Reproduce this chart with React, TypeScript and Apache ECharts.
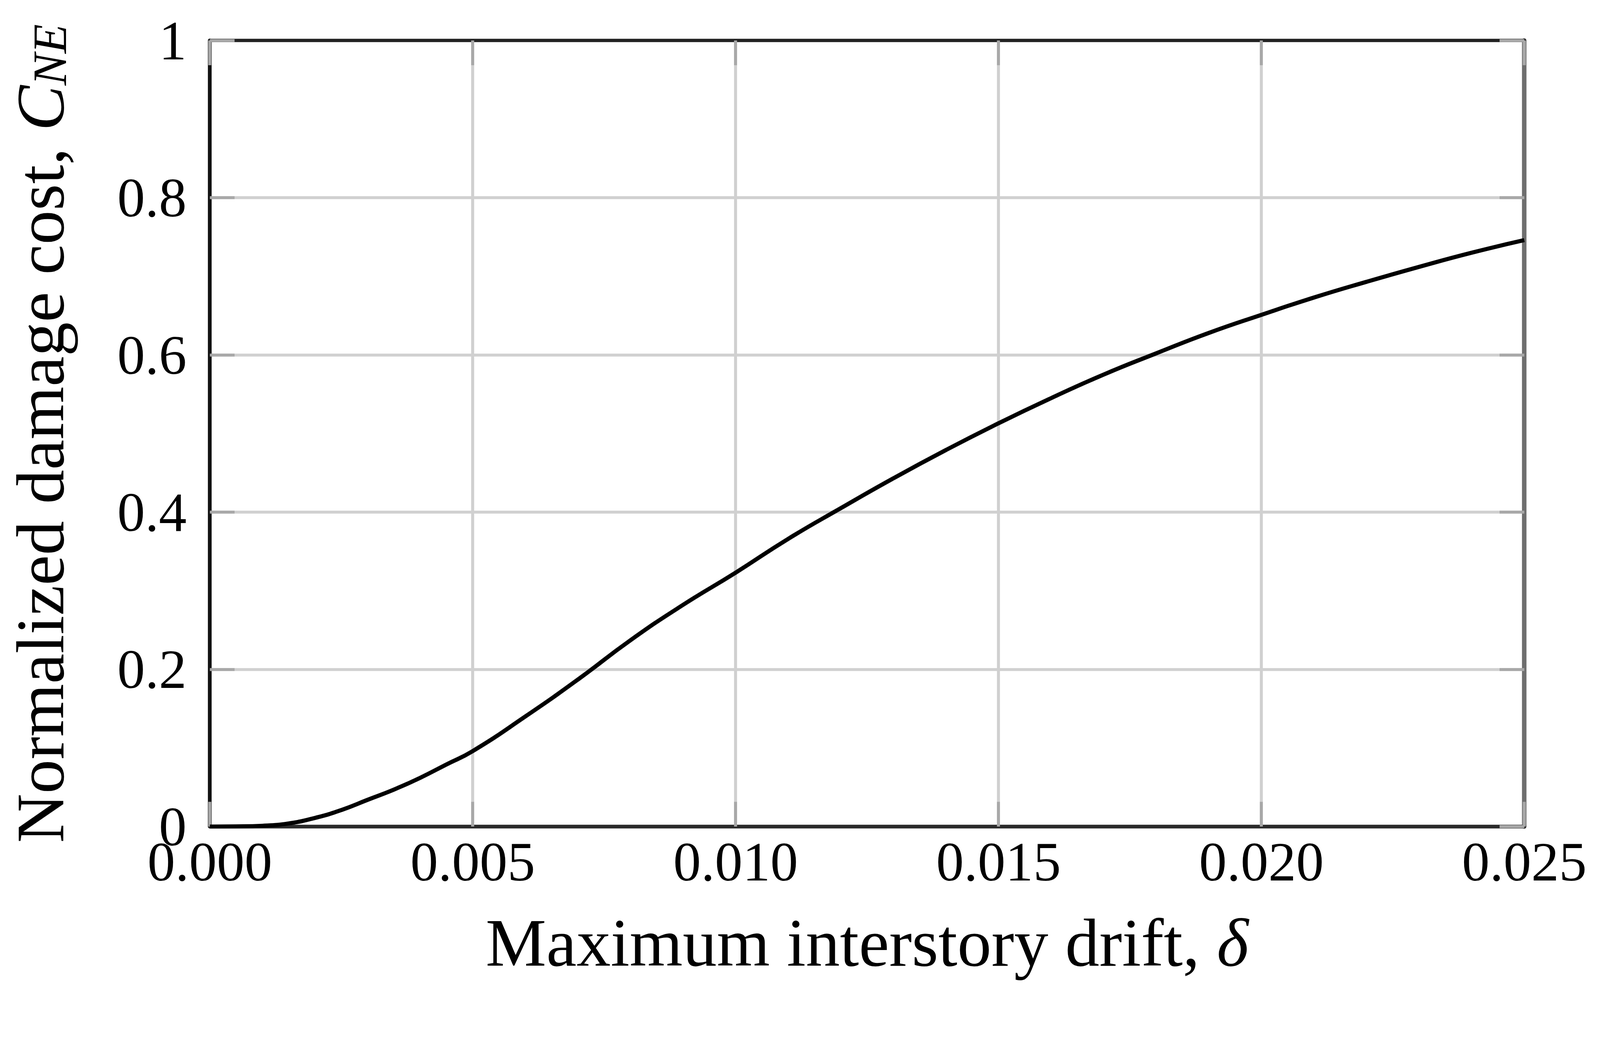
import React, { useEffect, useRef, useState } from "react";
import * as echarts from "echarts";

const driftValues = [
  0, 0.0005, 0.001, 0.0015, 0.002, 0.0025, 0.003, 0.0035, 0.004, 0.0045, 0.005,
  0.006, 0.007, 0.008, 0.009, 0.01, 0.011, 0.012, 0.013, 0.014, 0.015, 0.016,
  0.017, 0.018, 0.019, 0.02, 0.021, 0.022, 0.023, 0.024, 0.025,
];
const costValues = [
  0, 0.0002, 0.001, 0.004, 0.011, 0.021, 0.034, 0.047, 0.062, 0.079, 0.096,
  0.14, 0.187, 0.237, 0.282, 0.323, 0.366, 0.405, 0.443, 0.479, 0.513, 0.545,
  0.575, 0.602, 0.628, 0.651, 0.673, 0.693, 0.712, 0.73, 0.746,
];
const xTickInterval = 0.005;
const yTickInterval = 0.2;
const xTitle = "Maximum interstory drift, ";
const xTitleSymbol = "δ";
const yTitle = "Normalized damage cost, ";
const yTitleSymbol = "C";
const yTitleSub = "NE";

const FONT = "Liberation Serif";
const BASE_W = 4270;
const BASE_H = 2670;

export default function App() {
  const ref = useRef<HTMLDivElement>(null);
  const [size, setSize] = useState<{ w: number; h: number; s: number } | null>(null);

  useEffect(() => {
    document.body.style.margin = "0";
    document.body.style.overflow = "hidden";
    const s = Math.min(window.innerWidth / BASE_W, window.innerHeight / BASE_H);
    setSize({ w: BASE_W * s, h: BASE_H * s, s });
  }, []);

  useEffect(() => {
    if (!size || !ref.current) return;
    const s = size.s;
    const p = (v: number) => v * s;
    const chart = echarts.init(ref.current, null, { renderer: "svg" });
    const data = driftValues.map((x, i) => [x, costValues[i]]);
    const tickStyle = { show: true, inside: true, length: p(66), lineStyle: { color: "#a8a8a8", width: p(8) } };
    const gridLine = { show: true, lineStyle: { color: "#d0d0d0", width: p(8) } };
    chart.setOption({
      animation: false,
      backgroundColor: "#ffffff",
      grid: { left: p(560), right: p(202), top: p(108), bottom: p(464), outerBoundsMode: "none" },
      xAxis: [
        {
          type: "value",
          min: 0,
          max: 0.025,
          interval: xTickInterval,
          position: "bottom",
          axisLine: { show: true, onZero: false, lineStyle: { color: "#2a2a2a", width: p(10) } },
          axisTick: tickStyle,
          splitLine: gridLine,
          axisLabel: {
            show: true,
            margin: p(46),
            fontFamily: FONT,
            fontSize: p(148),
            lineHeight: p(96),
            color: "#000",
            formatter: (v: number) => v.toFixed(3),
          },
          name: `${xTitle}{i|${xTitleSymbol}}`,
          nameLocation: "middle",
          nameGap: p(218),
          nameTextStyle: {
            fontFamily: FONT,
            fontSize: p(182),
            color: "#000",
            rich: { i: { fontFamily: FONT, fontSize: p(182), fontStyle: "italic", color: "#000" } },
          },
        },
        {
          type: "value",
          min: 0,
          max: 0.025,
          interval: xTickInterval,
          position: "top",
          axisLine: { show: true, onZero: false, lineStyle: { color: "#222222", width: p(9) } },
          axisTick: tickStyle,
          splitLine: { show: false },
          axisLabel: { show: false },
        },
      ],
      yAxis: [
        {
          type: "value",
          min: 0,
          max: 1,
          interval: yTickInterval,
          position: "left",
          axisLine: { show: true, onZero: false, lineStyle: { color: "#111111", width: p(10) } },
          axisTick: tickStyle,
          splitLine: gridLine,
          axisLabel: {
            show: true,
            margin: p(62),
            fontFamily: FONT,
            fontSize: p(148),
            lineHeight: p(96),
            color: "#000",
          },
          name: `${yTitle}{c|${yTitleSymbol}}{s|${yTitleSub}}`,
          nameLocation: "middle",
          nameRotate: 90,
          nameGap: p(362),
          nameTextStyle: {
            fontFamily: FONT,
            fontSize: p(182),
            color: "#000",
            lineHeight: p(182),
            rich: {
              c: { fontFamily: FONT, fontSize: p(182), fontStyle: "italic", color: "#000", lineHeight: p(182) },
              s: {
                fontFamily: FONT,
                fontSize: p(128),
                fontStyle: "italic",
                color: "#000",
                lineHeight: p(92),
                verticalAlign: "bottom",
              },
            },
          },
        },
        {
          type: "value",
          min: 0,
          max: 1,
          interval: yTickInterval,
          position: "right",
          axisLine: { show: true, onZero: false, lineStyle: { color: "#6e6e6e", width: p(12) } },
          axisTick: tickStyle,
          splitLine: { show: false },
          axisLabel: { show: false },
        },
      ],
      series: [
        {
          type: "line",
          xAxisIndex: 0,
          yAxisIndex: 0,
          data,
          showSymbol: false,
          smooth: 0.5,
          lineStyle: { color: "#000000", width: p(11) },
          z: 5,
        },
      ],
    });
    return () => chart.dispose();
  }, [size]);

  return (
    <div
      ref={ref}
      style={{ width: size ? size.w : BASE_W, height: size ? size.h : BASE_H, background: "#fff" }}
    />
  );
}
